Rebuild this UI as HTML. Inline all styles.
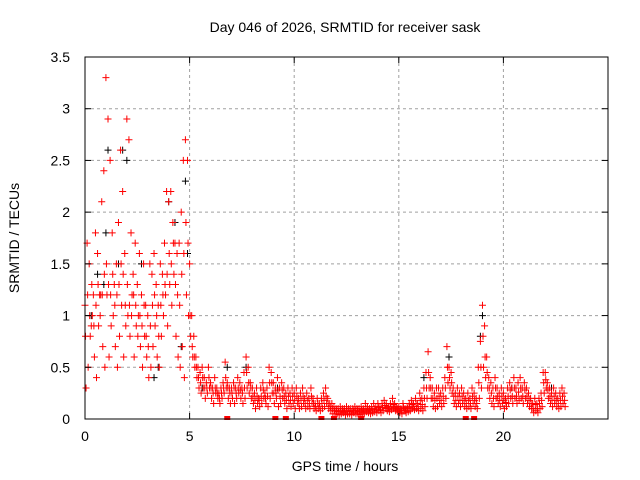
<!DOCTYPE html>
<html><head><meta charset="utf-8"><style>
body{margin:0;background:#fff;}
svg{display:block;font-family:"Liberation Sans",sans-serif;}
</style></head><body>
<svg id="chart" width="640" height="480">
<g id="grid"></g>
<g id="marks"></g>
<rect x="85" y="57" width="523" height="362" fill="none" stroke="#000" stroke-width="1"/>
<g id="ticks"></g>
<text x="345" y="32" font-size="14" text-anchor="middle">Day 046 of 2026, SRMTID for receiver sask</text>
<text x="345" y="471" font-size="14" text-anchor="middle">GPS time / hours</text>
<text x="19" y="238" font-size="14" text-anchor="middle" transform="rotate(-90 19 238)">SRMTID / TECUs</text>
</svg>
<script>
const xTicks=[0,5,10,15,20];
const yTicks=[0,0.5,1,1.5,2,2.5,3,3.5];
const yTickLabels=["0","0.5","1","1.5","2","2.5","3","3.5"];
const redStart=0, redStep=0.1;
const redA=[1.1,1.7,1.5,0.9,1.2,1.8,1.6,1.2,2.1,2.4,
3.3,2.9,2.5,1.8,1.3,1.5,1.9,2.6,2.2,1.6,
2.9,2.7,1.8,1.4,1.7,1.3,1.6,1.2,1.5,1.1,
1.0,1.5,1.4,1.6,1.3,1.1,1.5,1.4,1.7,2.2,
2.1,2.2,1.9,1.7,1.6,1.7,2.0,2.5,2.7,2.5,
1.5,1.0,0.8,0.6,0.5,0.45,0.5,0.4,0.35,0.5,
0.35,0.3,0.4,0.3,0.25,0.3,0.35,0.55,0.35,0.3,
0.3,0.35,0.3,0.4,0.35,0.3,0.45,0.6,0.5,0.35,
0.3,0.25,0.3,0.2,0.3,0.35,0.25,0.3,0.5,0.45,
0.35,0.3,0.4,0.3,0.35,0.3,0.25,0.3,0.25,0.3,
0.25,0.3,0.2,0.25,0.3,0.2,0.25,0.2,0.3,0.2,
0.15,0.2,0.15,0.2,0.25,0.3,0.2,0.15,0.15,0.12,
0.1,0.1,0.12,0.1,0.1,0.12,0.1,0.1,0.1,0.12,
0.1,0.1,0.12,0.1,0.15,0.12,0.1,0.12,0.15,0.12,
0.15,0.12,0.15,0.18,0.15,0.12,0.15,0.2,0.15,0.12,
0.12,0.1,0.15,0.1,0.12,0.15,0.18,0.15,0.2,0.15,
0.25,0.2,0.3,0.45,0.65,0.4,0.3,0.25,0.3,0.3,
0.25,0.3,0.4,0.7,0.5,0.45,0.3,0.25,0.3,0.25,
0.3,0.25,0.2,0.25,0.2,0.3,0.25,0.2,0.5,0.75,
1.1,0.9,0.6,0.4,0.35,0.3,0.4,0.3,0.25,0.3,
0.25,0.2,0.3,0.35,0.3,0.4,0.3,0.35,0.4,0.3,
0.35,0.3,0.25,0.2,0.15,0.2,0.15,0.2,0.25,0.45,
0.45,0.35,0.3,0.25,0.3,0.25,0.2,0.25,0.3,0.25];
const redB=[0.3,0.5,0.8,1.0,0.6,0.4,0.9,1.2,0.7,0.5,
1.2,0.6,0.9,1.0,0.7,0.5,0.8,1.1,0.6,0.9,
1.0,0.8,1.2,0.6,0.9,1.0,0.7,0.5,0.8,0.6,
0.4,0.5,0.7,0.9,0.6,0.5,0.8,1.0,1.2,0.9,
1.3,1.1,1.4,0.8,0.6,0.5,0.7,0.4,1.2,1.0,
0.8,0.6,0.5,0.4,0.3,0.25,0.3,0.2,0.25,0.3,
0.2,0.15,0.25,0.2,0.15,0.2,0.25,0.3,0.2,0.15,
0.2,0.15,0.2,0.25,0.2,0.15,0.2,0.3,0.25,0.2,
0.15,0.1,0.15,0.12,0.15,0.2,0.15,0.12,0.2,0.25,
0.15,0.2,0.12,0.15,0.2,0.15,0.1,0.15,0.12,0.15,
0.1,0.15,0.1,0.12,0.15,0.1,0.12,0.1,0.15,0.1,
0.08,0.1,0.08,0.1,0.12,0.15,0.1,0.08,0.05,0.05,
0.05,0.04,0.05,0.06,0.04,0.05,0.05,0.04,0.06,0.05,
0.05,0.04,0.06,0.05,0.07,0.06,0.05,0.06,0.07,0.06,
0.08,0.06,0.08,0.1,0.08,0.07,0.09,0.1,0.08,0.07,
0.06,0.05,0.08,0.06,0.07,0.08,0.1,0.09,0.1,0.08,
0.1,0.08,0.12,0.2,0.3,0.2,0.12,0.1,0.12,0.15,
0.12,0.15,0.2,0.35,0.3,0.25,0.15,0.12,0.15,0.12,
0.15,0.12,0.1,0.12,0.1,0.15,0.12,0.1,0.2,0.3,
0.5,0.4,0.3,0.2,0.15,0.12,0.2,0.15,0.12,0.15,
0.1,0.12,0.15,0.2,0.15,0.2,0.15,0.18,0.2,0.15,
0.2,0.15,0.12,0.1,0.06,0.08,0.06,0.1,0.12,0.25,
0.3,0.2,0.15,0.12,0.15,0.12,0.1,0.12,0.15,0.12];
const redC=[0.8,1.2,1.0,1.3,0.9,1.1,1.3,1.0,1.2,1.4,
1.5,1.3,1.2,1.4,1.1,1.2,1.3,1.5,1.4,1.1,
1.3,1.1,1.0,1.2,1.1,0.8,1.0,0.9,1.1,0.8,
0.7,0.9,1.1,1.2,1.0,0.8,1.1,1.2,1.3,1.4,
1.6,1.5,1.7,1.3,1.2,1.1,1.4,1.6,1.9,1.7,
1.0,0.7,0.6,0.5,0.4,0.35,0.4,0.3,0.3,0.4,
0.3,0.25,0.3,0.25,0.2,0.25,0.3,0.4,0.3,0.25,
0.25,0.3,0.25,0.3,0.28,0.25,0.3,0.45,0.35,0.3,
0.22,0.18,0.22,0.18,0.22,0.28,0.2,0.22,0.35,0.35,
0.25,0.25,0.28,0.22,0.28,0.22,0.18,0.22,0.18,0.22,
0.18,0.22,0.15,0.18,0.22,0.15,0.18,0.15,0.22,0.15,
0.12,0.15,0.12,0.15,0.18,0.22,0.15,0.12,0.1,0.08,
0.08,0.07,0.08,0.08,0.07,0.08,0.08,0.07,0.08,0.08,
0.08,0.07,0.09,0.08,0.1,0.09,0.08,0.09,0.1,0.09,
0.11,0.09,0.11,0.13,0.11,0.1,0.12,0.14,0.11,0.1,
0.09,0.08,0.11,0.08,0.1,0.11,0.14,0.12,0.15,0.12,
0.18,0.14,0.2,0.3,0.45,0.3,0.2,0.18,0.2,0.22,
0.18,0.22,0.3,0.5,0.4,0.35,0.22,0.18,0.22,0.18,
0.22,0.18,0.15,0.18,0.15,0.22,0.18,0.15,0.35,0.5,
0.8,0.6,0.45,0.3,0.25,0.2,0.3,0.22,0.18,0.22,
0.18,0.16,0.22,0.28,0.22,0.3,0.22,0.26,0.3,0.22,
0.28,0.22,0.18,0.15,0.1,0.14,0.1,0.15,0.18,0.35,
0.38,0.28,0.22,0.18,0.22,0.18,0.15,0.18,0.22,0.18];
const blackT=[0.3,0.6,0.9,1.0,1.1,1.6,1.8,2.0,2.7,3.3,3.5,4.0,4.3,4.6,4.8,4.9,5.6,6.8,7.7,9.2,16.2,17.4,18.9,19.0,20.4,22.3];
const blackV=[1.0,1.4,1.3,1.8,2.6,1.5,2.6,2.5,1.5,0.4,0.5,2.1,1.9,0.7,2.3,1.6,0.3,0.5,0.5,0.3,0.4,0.6,0.8,1.0,0.3,0.3];
const zeroT=[6.8,9.1,9.6,11.3,11.9,13.2,18.2,18.6];

const NS="http://www.w3.org/2000/svg";
const X=t=>85+t*(523/25);
const Y=v=>419-v*(362/3.5);
const grid=document.getElementById('grid'),ticks=document.getElementById('ticks'),marks=document.getElementById('marks');
function mk(tag,attrs,parent){const e=document.createElementNS(NS,tag);for(const k in attrs)e.setAttribute(k,attrs[k]);parent.appendChild(e);return e;}
xTicks.forEach(t=>{
  const x=X(t);
  if(t>0){const g=mk('line',{x1:x,x2:x,y1:57,y2:419,stroke:'#a0a0a0','stroke-dasharray':'3,3'},grid);
  
  }
  mk('line',{x1:x,x2:x,y1:419,y2:413,stroke:'#000'},ticks);
  mk('line',{x1:x,x2:x,y1:57,y2:63,stroke:'#000'},ticks);
  const tx=mk('text',{x:x,y:441,'font-size':14,'text-anchor':'middle'},ticks);
  tx.textContent=t;
  
  
});
yTicks.forEach((v,i)=>{
  const y=Y(v);
  if(v>0&&v<3.5){const g=mk('line',{x1:85,x2:608,y1:y,y2:y,stroke:'#a0a0a0','stroke-dasharray':'3,3'},grid);
  
  }
  mk('line',{x1:85,x2:91,y1:y,y2:y,stroke:'#000'},ticks);
  mk('line',{x1:608,x2:602,y1:y,y2:y,stroke:'#000'},ticks);
  const tx=mk('text',{x:70,y:y+5,'font-size':14,'text-anchor':'end'},ticks);
  tx.textContent=yTickLabels[i];
  
  
});
function plus(t,v,color,name){
  const x=X(t),y=Y(v);
  const p=mk('path',{d:`M${x-3.5},${y}h7M${x},${y-3.5}v7`,stroke:color,'stroke-width':1,fill:'none'},marks);
  
  
}
blackT.forEach((t,i)=>plus(t,blackV[i],'#000','black-point'));
redA.forEach((v,i)=>plus(redStart+i*redStep,v,'#f00','red-point'));
redB.forEach((v,i)=>plus(redStart+i*redStep+0.05,v,'#f00','red-point'));
redC.forEach((v,i)=>plus(redStart+i*redStep+0.025,v,'#f00','red-point'));
zeroT.forEach(t=>{
  const r=mk('rect',{x:X(t)-3,y:416,width:6,height:4,fill:'#f00'},marks);
  
  
});
</script>
</body></html>
